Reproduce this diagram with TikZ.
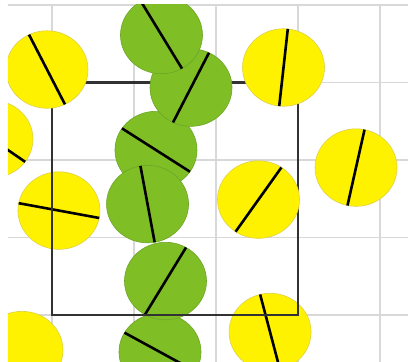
\documentclass[tikz,border=0pt]{standalone}
\usepackage{tikz}
\usetikzlibrary{calc}
\definecolor{discyellow}{RGB}{255,242,0}
\definecolor{rimyellow} {RGB}{222,208,70}
\definecolor{discgreen} {RGB}{128,190,38}
\definecolor{rimgreen}  {RGB}{108,165,40}
\definecolor{framegray} {RGB}{ 50, 50, 50}
\definecolor{gridgray}  {RGB}{216,216,216}

\begin{document}
\begin{tikzpicture}[
  x=82pt, y=77.5pt,
  gridline/.style={draw=gridgray, line width=1.3pt},
  frame/.style={draw=framegray, line width=2.6pt},
  ydisc/.style={fill=discyellow, draw=rimyellow, line width=0.6pt},
  gdisc/.style={fill=discgreen, draw=rimgreen, line width=0.6pt},
  bar/.style={draw=black, line width=2.6pt}
]
  \useasboundingbox (-0.634,-0.594) rectangle (4.341,4.065);
  \clip (-0.537,-0.594) rectangle (4.341,4.01);
  % Grid
  \foreach \u in {0,...,4} \draw[gridline] (\u,-0.7) -- (\u,4.1);
  \foreach \v in {0,...,4} \draw[gridline] (-0.7,\v) -- (4.4,\v);
  % Discs under the frame
  \foreach \u/\v/\a in {1.317/-0.477/-30, 1.384/0.439/60}{
    \draw[gdisc] (\u,\v) circle[radius=0.5];
    \draw[bar] ($(\u,\v)+(\a:0.5)$) -- ($(\u,\v)+(\a+180:0.5)$);
  }
  \foreach \u/\v/\a in {-0.732/2.271/-36, 0.085/1.348/-11, 2.659/-0.219/-76}{
    \draw[ydisc] (\u,\v) circle[radius=0.5];
    \draw[bar] ($(\u,\v)+(\a:0.5)$) -- ($(\u,\v)+(\a+180:0.5)$);
  }
  \draw[ydisc] (-0.366,-0.452) circle[radius=0.5];
  % Frame
  \draw[frame] (0,0) rectangle (3,3);
  % Discs over the frame
  \foreach \u/\v/\a in {1.268/2.129/-34, 1.165/1.432/100, 1.695/2.935/64, 1.335/3.613/-60}{
    \draw[gdisc] (\u,\v) circle[radius=0.5];
    \draw[bar] ($(\u,\v)+(\a:0.5)$) -- ($(\u,\v)+(\a+180:0.5)$);
  }
  \foreach \u/\v/\a in {-0.061/3.168/-64, 2.823/3.194/84, 3.707/1.903/78, 2.518/1.490/56}{
    \draw[ydisc] (\u,\v) circle[radius=0.5];
    \draw[bar] ($(\u,\v)+(\a:0.5)$) -- ($(\u,\v)+(\a+180:0.5)$);
  }
\end{tikzpicture}
\end{document}
